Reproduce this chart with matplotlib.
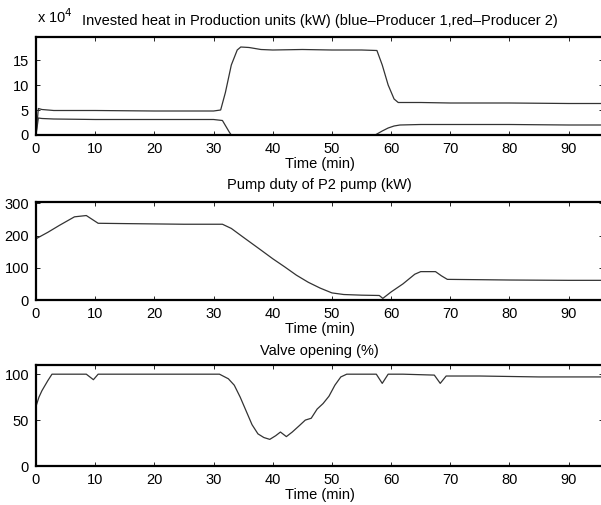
import matplotlib
matplotlib.use('Agg')
import matplotlib.pyplot as plt

# Invested heat in production units (units of 1e4 kW)
t_prod1 = [0, 0.4, 1.0, 3, 10, 20, 30, 31.2, 32.0, 33.0, 34.0, 34.6, 36, 38, 40, 45, 50, 55, 57.6, 58.5, 59.5, 60.5, 61.2, 65, 70, 80, 90, 95.8]
prod1 = [0, 5.3, 5.1, 4.9, 4.9, 4.8, 4.8, 5.0, 8.5, 14.0, 17.0, 17.6, 17.5, 17.1, 17.0, 17.1, 17.0, 17.0, 16.9, 14.0, 10.0, 7.2, 6.5, 6.5, 6.4, 6.4, 6.3, 6.3]
t_prod2 = [0, 0.4, 1.0, 3, 10, 20, 30, 31.5, 32.2, 32.7, 33.0, 40, 50, 57.3, 58.5, 59.5, 60.5, 61.5, 65, 70, 80, 90, 95.8]
prod2 = [0, 3.4, 3.3, 3.2, 3.1, 3.1, 3.1, 2.9, 1.5, 0.5, 0, 0, 0, 0, 0.8, 1.4, 1.8, 2.0, 2.1, 2.1, 2.1, 2.0, 2.0]

# Pump duty of P2 pump (kW)
t_pump = [0, 2, 4, 6.5, 8.5, 9.5, 10.5, 15, 20, 25, 31.5, 33, 35, 38, 40, 42, 44, 46, 48, 50, 52, 55, 58, 58.6, 60, 62, 64, 65, 67.5, 68.5, 69.5, 75, 80, 90, 95.8]
pump = [190, 210, 232, 258, 262, 250, 238, 237, 236, 235, 235, 222, 195, 155, 128, 103, 77, 55, 37, 22, 17, 15, 14, 5, 25, 50, 80, 88, 88, 75, 64, 63, 62, 61, 61]

# Valve opening (%)
t_valve = [0, 0.5, 1, 2, 2.7, 5, 8.5, 9.7, 10.5, 15, 20, 25, 31, 32.5, 33.5, 34.5, 35.5, 36.5, 37.5, 38.5, 39.5, 40.5, 41.3, 42.3, 43.3, 44.5, 45.5, 46.5, 47.5, 48.5, 49.5, 50.5, 51.5, 52.5, 57.5, 58.5, 59.5, 62, 67.3, 68.3, 69.3, 75, 85, 95.8]
valve = [65, 75, 82, 93, 100, 100, 100, 94, 100, 100, 100, 100, 100, 95, 88, 75, 60, 45, 35, 31, 29, 33, 37, 32, 37, 44, 50, 52, 62, 68, 76, 88, 97, 100, 100, 90, 100, 100, 99, 90, 98, 98, 97, 97]

xticks = [0, 10, 20, 30, 40, 50, 60, 70, 80, 90]

plt.rcParams['font.family'] = ['Liberation Sans', 'DejaVu Sans']
fig = plt.figure(figsize=(6.01, 5.05), dpi=100)

W, H = 601.0, 505.0
left, right = 36, 603
boxes = [(37, 135), (202, 300), (365, 466)]
axs = []
for top, bot in boxes:
    ax = fig.add_axes([left / W, 1 - bot / H, (right - left) / W, (bot - top) / H])
    axs.append(ax)

line_kw = dict(color='#333333', lw=0.9)
fs = 10.5

axs[0].plot(t_prod1, prod1, **line_kw)
axs[0].plot(t_prod2, prod2, **line_kw)
axs[0].set_ylim(0, 19.6)
axs[0].set_yticks([0, 5, 10, 15])
axs[0].set_title('Invested heat in Production units (kW) (blue\u2013Producer 1,red\u2013Producer 2)',
                 fontsize=fs, pad=9)
fig.text(37 / W, 1 - 23 / H, 'x 10$^4$', fontsize=fs, ha='left', va='baseline')

axs[1].plot(t_pump, pump, **line_kw)
axs[1].set_ylim(0, 304)
axs[1].set_yticks([0, 100, 200, 300])
axs[1].set_title('Pump duty of P2 pump (kW)', fontsize=fs, pad=9)

axs[2].plot(t_valve, valve, **line_kw)
axs[2].set_ylim(0, 110)
axs[2].set_yticks([0, 50, 100])
axs[2].set_title('Valve opening (%)', fontsize=fs, pad=7)

for ax in axs:
    ax.set_xlim(0, 95.8)
    ax.set_xticks(xticks)
    ax.set_xlabel('Time (min)', fontsize=fs, labelpad=1)
    ax.tick_params(direction='in', top=True, right=True, length=3, width=0.6,
                   labelsize=fs, pad=5)
    for s in ax.spines.values():
        s.set_linewidth(1.6)
        s.set_color('black')

fig.savefig('out.png', dpi=100)
